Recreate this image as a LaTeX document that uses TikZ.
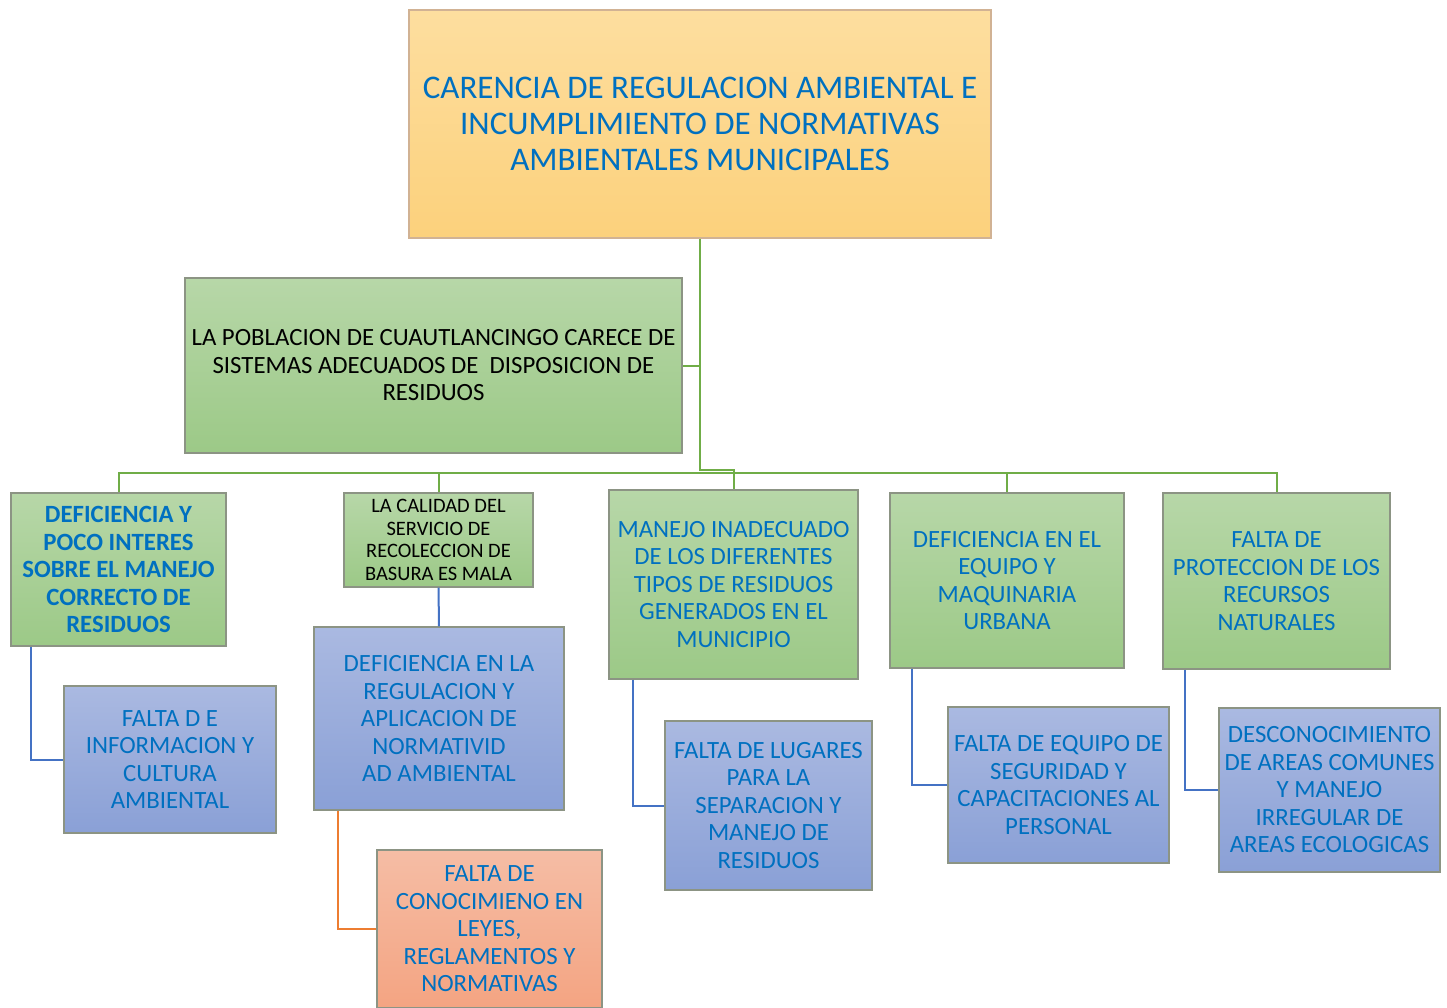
\documentclass[tikz,border=0pt]{standalone}
\usepackage{fontspec}
\setmainfont{Carlito}
\definecolor{txtblue}{HTML}{0070C0}
\definecolor{gline}{HTML}{70AD47}
\definecolor{bline}{HTML}{4472C4}
\definecolor{oline}{HTML}{ED7D31}
\definecolor{gtop}{HTML}{B7D7A8}
\definecolor{gbot}{HTML}{9CC987}
\definecolor{btop}{HTML}{AAB9E1}
\definecolor{bbot}{HTML}{8AA0D6}
\definecolor{otop}{HTML}{F5BDA5}
\definecolor{obot}{HTML}{F4A482}
\definecolor{ytop}{HTML}{FDDE9F}
\definecolor{ybot}{HTML}{FCD17C}
\definecolor{bord}{HTML}{8C9484}
\tikzset{
  box/.style={draw=bord, line width=1.3pt, align=center, inner sep=1pt, text=txtblue},
  gbox/.style={box, top color=gtop, bottom color=gbot},
  bbox/.style={box, top color=btop, bottom color=bbot},
  obox/.style={box, top color=otop, bottom color=obot},
  ybox/.style={box, top color=ytop, bottom color=ybot, draw=gray!60!orange!60},
  fbig/.style={font=\fontsize{33}{36}\selectfont},
  fmid/.style={font=\fontsize{24.8}{27.5}\selectfont},
  fsm/.style={font=\fontsize{20.5}{22.7}\selectfont},
  glink/.style={draw=gline, line width=2pt},
  blink/.style={draw=bline, line width=2pt},
  olink/.style={draw=oline, line width=2pt},
}
\begin{document}
\begin{tikzpicture}[x=1pt,y=-1pt]
\useasboundingbox (0,0) rectangle (1447,1007);
% nodes
\node[ybox, fbig, minimum width=582, minimum height=228] (top) at (700,124)
  {CARENCIA DE REGULACION AMBIENTAL E\\INCUMPLIMIENTO DE NORMATIVAS\\AMBIENTALES MUNICIPALES};
\node[gbox, font=\fontsize{24.8}{27.5}\selectfont, text=black, minimum width=497, minimum height=175] (pob) at (433.5,365.5)
  {LA POBLACION DE CUAUTLANCINGO CARECE DE\\SISTEMAS ADECUADOS DE\ \ DISPOSICION DE\\RESIDUOS};
\node[gbox, font=\fontsize{24.8}{27.5}\selectfont\bfseries, minimum width=215, minimum height=153] (m1) at (118.5,569.5)
  {DEFICIENCIA Y\\POCO INTERES\\SOBRE EL MANEJO\\CORRECTO DE\\RESIDUOS};
\node[gbox, fsm, text=black, minimum width=189, minimum height=94] (m2) at (438.5,540)
  {LA CALIDAD DEL\\SERVICIO DE\\RECOLECCION DE\\BASURA ES MALA};
\node[gbox, fmid, minimum width=249, minimum height=189] (m3) at (733.5,584.5)
  {MANEJO INADECUADO\\DE LOS DIFERENTES\\TIPOS DE RESIDUOS\\GENERADOS EN EL\\MUNICIPIO};
\node[gbox, fmid, minimum width=234, minimum height=175] (m4) at (1007,580.5)
  {DEFICIENCIA EN EL\\EQUIPO Y\\MAQUINARIA\\URBANA};
\node[gbox, fmid, minimum width=227, minimum height=176] (m5) at (1276.5,581)
  {FALTA DE\\PROTECCION DE LOS\\RECURSOS\\NATURALES};
\node[bbox, fmid, minimum width=212, minimum height=147] (a) at (170,759.5)
  {FALTA D E\\INFORMACION Y\\CULTURA\\AMBIENTAL};
\node[bbox, fmid, minimum width=250, minimum height=183] (b) at (439,718.5)
  {DEFICIENCIA EN LA\\REGULACION Y\\APLICACION DE\\NORMATIVID\\AD AMBIENTAL};
\node[bbox, fmid, minimum width=207, minimum height=169] (c) at (768.5,805.5)
  {FALTA DE LUGARES\\PARA LA\\SEPARACION Y\\MANEJO DE\\RESIDUOS};
\node[bbox, fmid, minimum width=221, minimum height=156] (d) at (1058.5,785)
  {FALTA DE EQUIPO DE\\SEGURIDAD Y\\CAPACITACIONES AL\\PERSONAL};
\node[bbox, fmid, minimum width=221, minimum height=164] (e) at (1329.5,790)
  {DESCONOCIMIENTO\\DE AREAS COMUNES\\Y MANEJO\\IRREGULAR DE\\AREAS ECOLOGICAS};
\node[obox, fmid, minimum width=225, minimum height=158] (o) at (489.5,929)
  {FALTA DE\\CONOCIMIENO EN\\LEYES,\\REGLAMENTOS Y\\NORMATIVAS};
% green connectors
\coordinate (j) at (700,470);
\coordinate (busL) at (118,473);
\coordinate (busR) at (1276,473);
\draw[glink] (top.south) -- (j) -- (j -| m3.north) -- (m3.north);
\draw[glink] (pob.east) -- (pob.east -| top.south);
\draw[glink] (m1.north) -- (m1.north |- busL) -- (busR -| m5.north) -- (m5.north);
\draw[glink] (m2.north) -- (m2.north |- busL);
\draw[glink] (m4.north) -- (m4.north |- busL);
% blue connectors
\draw[blink] ([xshift=21pt]m1.south west) |- (a.west);
\draw[blink] (m2.south) -- (b.north);
\draw[blink] ([xshift=25pt]m3.south west) |- (c.west);
\draw[blink] ([xshift=23pt]m4.south west) |- (d.west);
\draw[blink] ([xshift=23pt]m5.south west) |- (e.west);
% orange connector
\draw[olink] ([xshift=25pt]b.south west) |- (o.west);
\end{tikzpicture}
\end{document}
